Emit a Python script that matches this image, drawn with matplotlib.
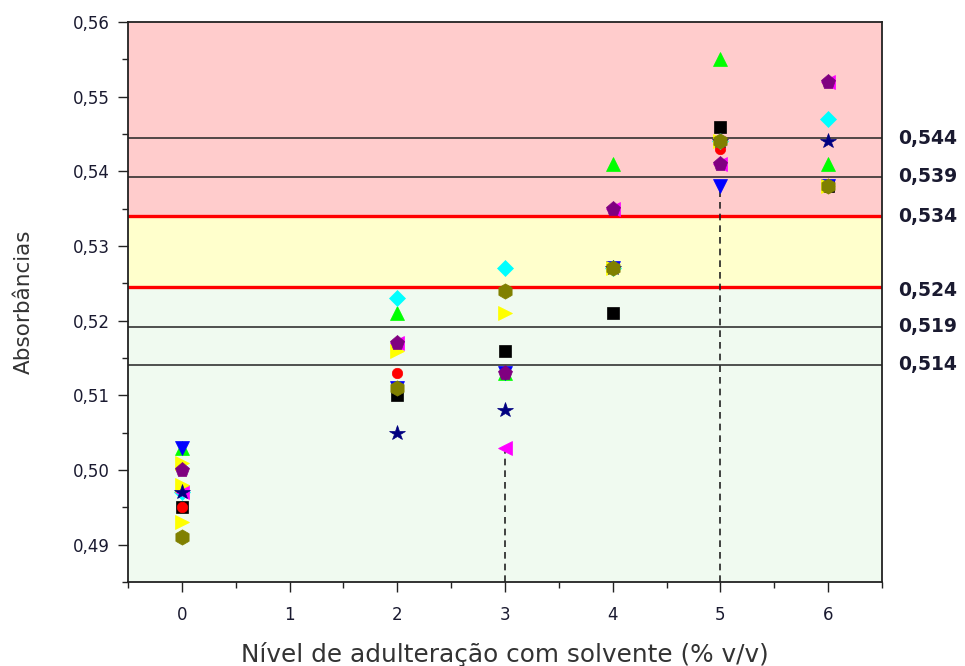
import matplotlib
matplotlib.use("Agg")
import matplotlib.pyplot as plt
from matplotlib.ticker import FuncFormatter, MultipleLocator
import matplotlib.transforms as mtransforms

# ---------------- data ----------------
levels = [0, 2, 3, 4, 5, 6]
black_sq   = [0.495, 0.510, 0.516, 0.521, 0.546, 0.538]
red_circ   = [0.495, 0.513, 0.513, 0.527, 0.543, 0.552]
green_up   = [0.503, 0.521, 0.513, 0.541, 0.555, 0.541]
blue_down  = [0.503, 0.511, 0.513, 0.527, 0.538, 0.538]
cyan_diam  = [0.497, 0.523, 0.527, 0.527, 0.544, 0.547]
mag_left   = [0.497, 0.517, 0.503, 0.535, 0.541, 0.552]
yel_right  = [0.501, 0.516, 0.521, 0.527, 0.544, 0.538]
yel_extra_x = [0, 0]
yel_extra_y = [0.498, 0.493]
navy_star  = [0.497, 0.505, 0.508, 0.527, 0.544, 0.544]
purp_pent  = [0.500, 0.517, 0.513, 0.535, 0.541, 0.552]
olive_hex  = [0.491, 0.511, 0.524, 0.527, 0.544, 0.538]

ref_lines_black = [0.5444, 0.5393, 0.5192, 0.5141]
ref_lines_red = [0.5340, 0.5245]
ref_labels = ["0,544", "0,539", "0,534", "0,524", "0,519", "0,514"]
ref_label_vals = [0.5444, 0.5393, 0.5340, 0.5245, 0.5192, 0.5141]

dashed_x = [3, 5]
dashed_top = [0.503, 0.538]

xlabel = "Nível de adulteração com solvente (% v/v)"
ylabel = "Absorbâncias"

# ---------------- figure ----------------
fig = plt.figure(figsize=(9.65, 6.66), dpi=100)
ax = fig.add_axes([128/965, 1-582/666, (882-128)/965, (582-22)/666])

ymin, ymax = 0.485, 0.56
xmin, xmax = -0.5, 6.5
ax.set_xlim(xmin, xmax)
ax.set_ylim(ymin, ymax)

# background bands
ax.axhspan(ymin, ref_lines_red[1], color="#F0FAF0", zorder=0)
ax.axhspan(ref_lines_red[1], ref_lines_red[0], color="#FFFFCC", zorder=0)
ax.axhspan(ref_lines_red[0], ymax, color="#FFCCCC", zorder=0)

for v in ref_lines_black:
    ax.axhline(v, color="#222222", lw=1.1, zorder=1)
for v in ref_lines_red:
    ax.axhline(v, color="#FF0000", lw=2.4, zorder=1)

for xv, yt in zip(dashed_x, dashed_top):
    ax.plot([xv, xv], [ymin, yt], ls=(0, (4, 3)), color="#222222", lw=1.2, zorder=1)

series = [
    (black_sq, "#000000", "s", 8),
    (red_circ, "#FF0000", "o", 7.5),
    (green_up, "#00FF00", "^", 10),
    (blue_down, "#0000FF", "v", 10),
    (cyan_diam, "#00FFFF", "D", 8.5),
    (mag_left, "#FF00FF", "<", 10),
    (yel_right, "#FFFF00", ">", 10),
    (navy_star, "#000080", "*", 11.5),
    (purp_pent, "#800080", "p", 11),
    (olive_hex, "#808000", "h", 11),
]
for vals, col, mk, size in series:
    ax.plot(levels, vals, ls="none", marker=mk, color=col, ms=size,
            mec=col, mew=0.5, zorder=3)
    if mk == ">":
        ax.plot(yel_extra_x, yel_extra_y, ls="none", marker=mk, color=col,
                ms=size, mec=col, mew=0.5, zorder=3)

# ticks
tick_color = "#1a1a30"
ax.xaxis.set_major_locator(MultipleLocator(1))
ax.xaxis.set_minor_locator(MultipleLocator(0.5))
ax.yaxis.set_major_locator(MultipleLocator(0.01))
ax.yaxis.set_minor_locator(MultipleLocator(0.005))
ax.yaxis.set_major_formatter(FuncFormatter(lambda v, p: f"{v:.2f}".replace(".", ",")))
ax.xaxis.set_major_formatter(FuncFormatter(lambda v, p: f"{int(round(v))}"))
ax.tick_params(axis="both", which="major", direction="out", length=7, width=1,
               labelsize=12, labelcolor=tick_color, color="#222222", pad=6)
ax.tick_params(axis="both", which="minor", direction="out", length=4, width=1,
               color="#222222")
ax.tick_params(top=False, right=False, which="both")
ax.tick_params(axis="x", pad=10)

for s in ax.spines.values():
    s.set_color("#222222")
    s.set_linewidth(1.3)

ax.set_xlabel(xlabel, fontsize=17.8, color="#333333", labelpad=13)
ax.set_ylabel(ylabel, fontsize=15.5, color="#333333", labelpad=28)

# right-side labels
trans = mtransforms.blended_transform_factory(ax.transAxes, ax.transData)
for lab, v in zip(ref_labels, ref_label_vals):
    dy = -0.0004 if lab == "0,524" else 0
    ax.text(1.021, v + dy, lab, transform=trans, ha="left", va="center",
            fontsize=13.5, fontweight="bold", color="#1a1a30", clip_on=False)

fig.savefig("out.png", dpi=100)
